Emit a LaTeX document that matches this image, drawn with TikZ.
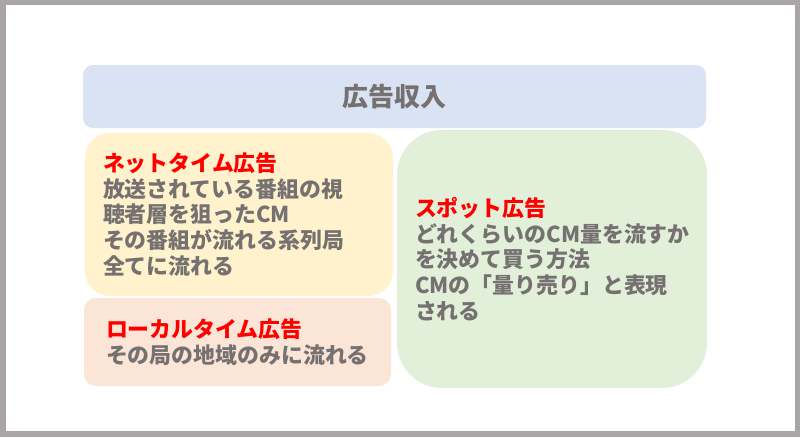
\documentclass[tikz,border=0pt]{standalone}
\usepackage{fontspec}
\setmainfont{Noto Sans CJK JP}
\usepackage{tikz}
\usetikzlibrary{positioning}
\definecolor{framegray}{HTML}{A9A5A4}
\definecolor{textgray}{HTML}{767171}
\definecolor{titleblue}{HTML}{DAE3F3}
\definecolor{netyellow}{HTML}{FFF2CC}
\definecolor{localorange}{HTML}{FBE5D6}
\definecolor{spotgreen}{HTML}{E2F0D9}
\newcommand{\redhead}[1]{\textcolor{red}{#1}}
\tikzstyle{panel}=[
  rectangle,
  anchor=north west,
  inner xsep=18pt,
  inner ysep=0pt,
  outer sep=0pt,
  align=left,
  text=textgray,
  font={\fontsize{21.9}{25.8}\selectfont\bfseries},
]
\tikzstyle{titlepanel}=[
  panel,
  align=center,
  font={\fontsize{26}{30}\selectfont\bfseries},
]
\tikzset{
  x=1pt,
  y=-1pt,
}

\begin{document}
\begin{tikzpicture}
      \useasboundingbox (0,0) rectangle (800,437);
      \fill [framegray] (0,0) rectangle (800,437);
      \fill [white] (6,5) rectangle (795,431);
      %%
      \node (income) [titlepanel, fill=titleblue, rounded corners=10pt,
        minimum width=623pt, minimum height=63pt] at (83,65) {広告収入};
      %%
      \node (nettime) [panel, fill=netyellow, rounded corners=25pt,
        below right=5pt and 2pt of income.south west,
        text width=272pt, minimum height=163pt]
        {\redhead{ネットタイム広告}\\放送されている番組の視\\聴者層を狙ったCM\\
         その番組が流れる系列局\\全てに流れる};
      \node (local) [panel, fill=localorange, rounded corners=12pt,
        below=2pt of nettime.south west, anchor=north west, xshift=-1pt,
        inner xsep=22pt, text width=263pt, minimum height=88pt]
        {\redhead{ローカルタイム広告}\\その局の地域のみに流れる};
      \node (spot) [panel, fill=spotgreen, rounded corners=45pt,
        right=4pt of nettime.north east, anchor=north west, yshift=3pt,
        text width=274pt, minimum height=258pt]
        {\redhead{スポット広告}\\どれくらいのCM量を流すか\\を決めて買う方法\\
         CMの「量り売り」と表現\\される};
\end{tikzpicture}
\end{document}
